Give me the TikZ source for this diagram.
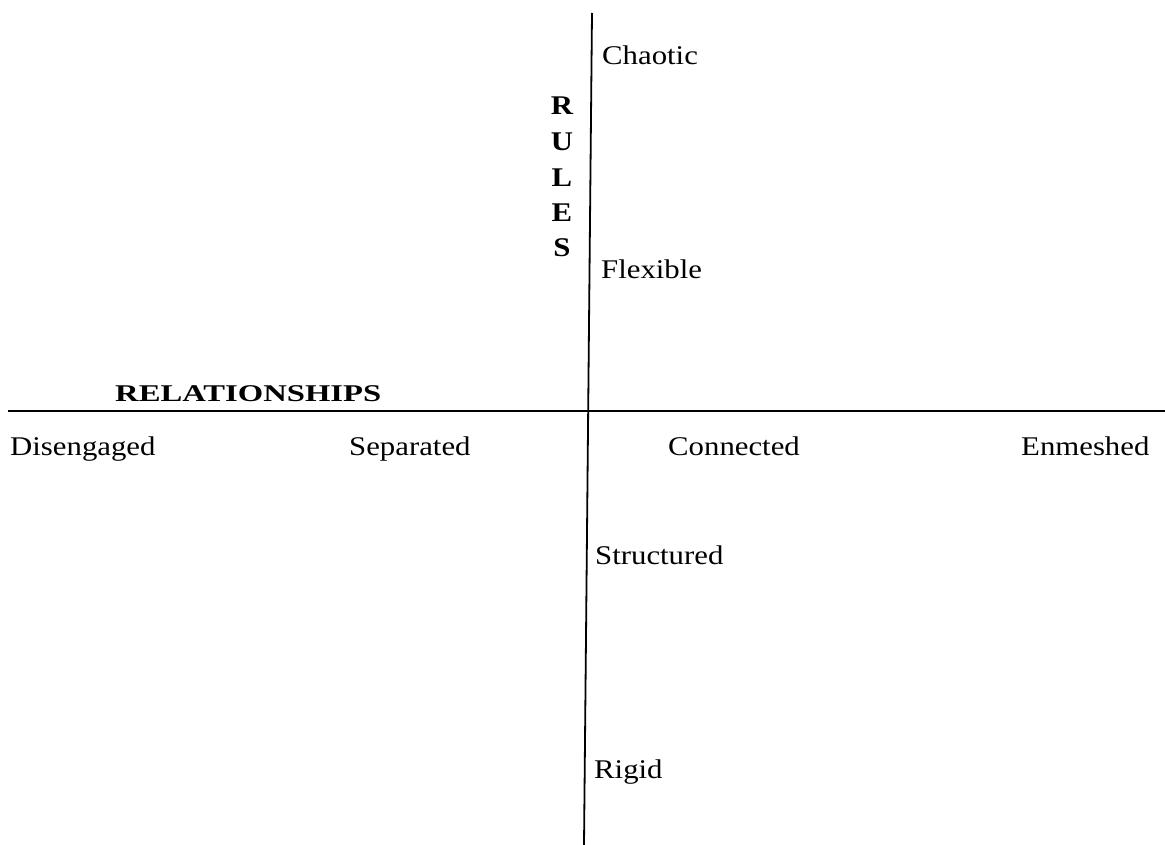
\documentclass[tikz,border=0pt]{standalone}
\usepackage{fontspec}
\setmainfont[FakeStretch=1.14]{Liberation Serif}
\newfontfamily\widebold[FakeStretch=1.36]{Liberation Serif}
\begin{document}
\begin{tikzpicture}[x=1pt,y=-1pt,
  axis/.style={line width=1.8pt,black},
  lab/.style={anchor=base west,inner sep=0pt,font=\fontsize{27}{32}\selectfont},
  title/.style={anchor=base west,inner sep=0pt,font=\widebold\bfseries\fontsize{24}{28}\selectfont},
  rules/.style={anchor=base,inner sep=0pt,font=\bfseries\fontsize{27}{30}\selectfont}]
\useasboundingbox (0,0) rectangle (1165,845);
\coordinate (vtop) at (592,13);
\coordinate (vbot) at (584,845);
\coordinate (hl) at (8,411);
\coordinate (hr) at (1165,411);
\draw[axis] (vtop) -- (vbot);
\draw[axis] (hl) -- (hr);
\node[lab] (chaotic) at (602,65) {Chaotic};
\node[lab] (flexible) at (601,279) {Flexible};
\node[lab] (structured) at (595,564) {Structured};
\node[lab] (rigid) at (594,778) {Rigid};
\node[lab] (diseng) at (10,455) {Disengaged};
\node[lab] (separated) at (349,455) {Separated};
\node[lab] (connected) at (668,455) {Connected};
\node[lab] (enmeshed) at (1021,455) {Enmeshed};
\node[title] (rel) at (115,401) {RELATIONSHIPS};
\node[rules] (r1) at (562,115) {R};
\node[rules] (r2) at (562,151) {U};
\node[rules] (r3) at (562,187) {L};
\node[rules] (r4) at (562,222) {E};
\node[rules] (r5) at (562,257) {S};
\end{tikzpicture}
\end{document}
